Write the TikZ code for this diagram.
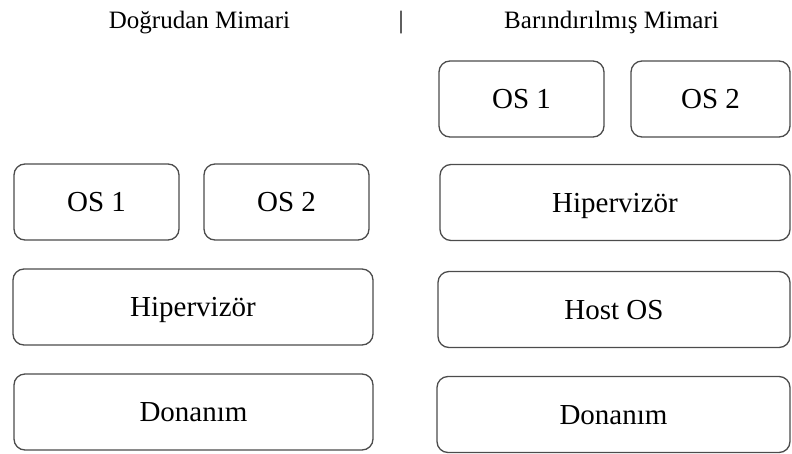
\documentclass[tikz,border=0pt]{standalone}
\usepackage{fontspec}
\setmainfont{Liberation Serif}
\tikzset{layer/.style={draw=black!70, line width=1.3pt, rounded corners=11pt, minimum height=76pt, inner sep=0pt, text depth=0pt, font=\fontsize{29}{34}\selectfont},
	title/.style={anchor=base, font=\fontsize{25}{30}\selectfont}}

\begin{document}
\begin{tikzpicture}[x=1pt, y=-1pt]

	\useasboundingbox (0,0) rectangle (792,453);

	% titles
	\node (t-direct) at (199.5,28) [title] {Doğrudan Mimari};
	\node (t-sep) at (401,28) [title] {|};
	\node (t-hosted) at (611.5,28) [title] {Barındırılmış Mimari};

	% direct architecture
	\node (d-os1) at (96.5,202) [layer, minimum width=165pt] {OS 1};
	\node (d-os2) at (286.5,202) [layer, minimum width=165pt] {OS 2};
	\node (d-hyp) at (193,307) [layer, minimum width=360pt] {Hipervizör};
	\node (d-hw) at (193.5,412) [layer, minimum width=359pt] {Donanım};

	% hosted architecture
	\node (h-os1) at (521.5,99) [layer, minimum width=165pt] {OS 1};
	\node (h-os2) at (710.5,99) [layer, minimum width=159pt] {OS 2};
	\node (h-hyp) at (615,202.5) [layer, minimum width=350pt] {Hipervizör};
	\node (h-host) at (614,309.5) [layer, minimum width=352pt] {Host OS};
	\node (h-hw) at (613.5,414.5) [layer, minimum width=353pt] {Donanım};

\end{tikzpicture}
\end{document}
